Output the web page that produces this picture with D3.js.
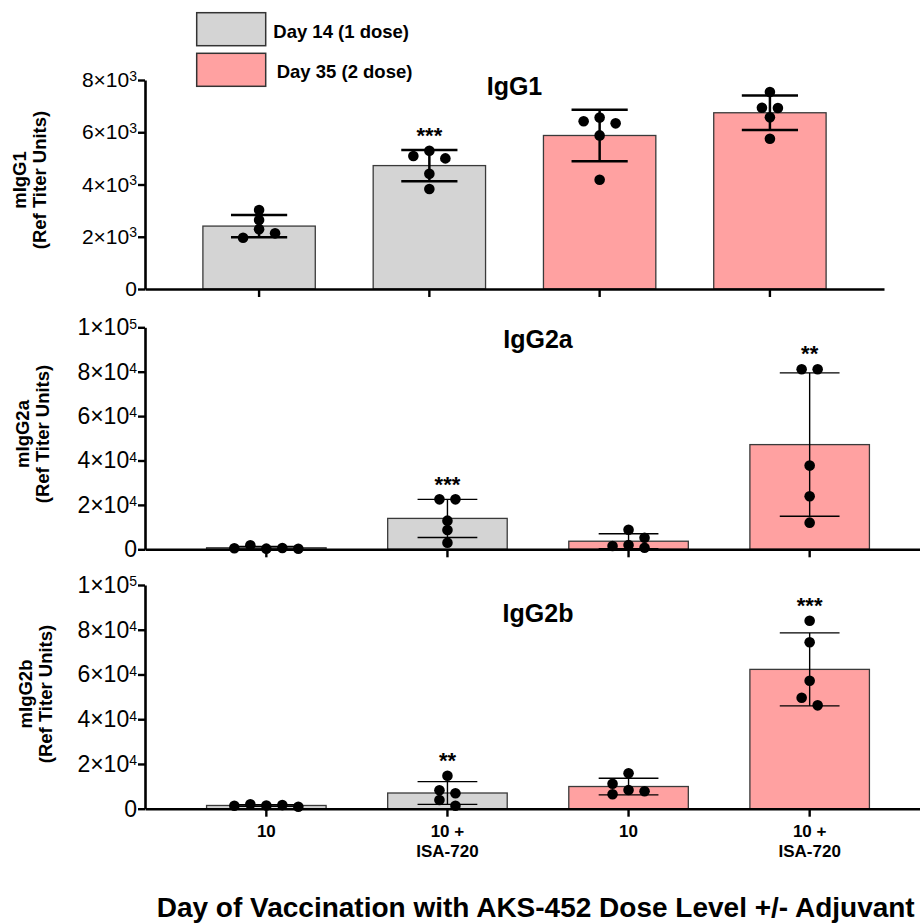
<!DOCTYPE html>
<html>
<head>
<meta charset="utf-8">
<script src="https://cdn.jsdelivr.net/npm/d3@7"></script>
<style>
body { margin: 0; background: #fff; }
text { font-family: "Liberation Sans", Arial, sans-serif; }
</style>
</head>
<body>
<svg id="chart" width="920" height="924"></svg>
<script>
// categories (two-line labels split on "|") and which group each bar belongs to
const categories = ["10", "10 +|ISA-720", "10", "10 +|ISA-720"]
const groups = ["Day 14 (1 dose)", "Day 14 (1 dose)", "Day 35 (2 dose)", "Day 35 (2 dose)"]
const legendLabels = ["Day 14 (1 dose)", "Day 35 (2 dose)"]

// individual animal titers
const igg1Points = [
    [3020, 2640, 2290, 2130, 1960],
    [5290, 5000, 5090, 4410, 3830],
    [6560, 6340, 6420, 5880, 4180],
    [7540, 6940, 6930, 6570, 5750]
]
const igg2aPoints = [
    [300, 600, 1800, 250, 500],
    [22500, 22500, 12900, 8700, 3000],
    [8830, 5230, 1940, 1490, 720],
    [81100, 81100, 37700, 23900, 12000]
]
const igg2bPoints = [
    [1400, 1600, 2000, 900, 1300],
    [14750, 8230, 6880, 3890, 1340],
    [15820, 8360, 7780, 11180, 6440],
    [84000, 74400, 57200, 49600, 46200]
]

const igg1Stars = ["", "***", "", ""]
const igg2aStars = ["", "***", "", "**"]
const igg2bStars = ["", "**", "", "***"]

const igg1Ticks = [0, 2000, 4000, 6000, 8000]
const igg2Ticks = [0, 20000, 40000, 60000, 80000, 100000]

const xTitle = "Day of Vaccination with AKS-452 Dose Level +/- Adjuvant"

const COLORS = { "Day 14 (1 dose)": "#d4d4d4", "Day 35 (2 dose)": "#ffa1a1" }

const panels = [
    { title: "IgG1", yLabel: "mIgG1", points: igg1Points, stars: igg1Stars, ticks: igg1Ticks,
      top: 80, bottom: 289, right: 884, titleY: 95, labelX: 26, labelY: 180, thick: true, tickFont: 21 },
    { title: "IgG2a", yLabel: "mIgG2a", points: igg2aPoints, stars: igg2aStars, ticks: igg2Ticks,
      top: 327.3, bottom: 549.3, right: 931, titleY: 348.3, labelX: 29, labelY: 434, thick: false, tickFont: 23 },
    { title: "IgG2b", yLabel: "mIgG2b", points: igg2bPoints, stars: igg2bStars, ticks: igg2Ticks,
      top: 585, bottom: 808.7, right: 931, titleY: 621.7, labelX: 32, labelY: 694, thick: false, tickFont: 23, labels: true }
]

const left = 145
const dotR = 5.3

let svg = d3.select("#chart")
svg.append("rect").attr("width", 920).attr("height", 924).attr("fill", "#fff")

// simple GraphPad-like scatter: stack in a column, spill sideways on overlap, centre each clump
const swarm = (vals, y, step, thr) => {
    const pts = vals.map(v => ({ v: v, py: y(v), col: 0 }))
    const order = [0, 1, -1, 2, -2, 3, -3]
    pts.forEach((p, i) => {
        for (const c of order) {
            const hit = pts.slice(0, i).some(q => q.col === c && Math.abs(q.py - p.py) < thr)
            if (!hit) { p.col = c; break }
        }
    })
    const comp = pts.map((d, i) => i)
    const find = i => comp[i] === i ? i : (comp[i] = find(comp[i]))
    pts.forEach((p, i) => pts.forEach((q, j) => {
        if (j > i && Math.abs(p.py - q.py) < thr) comp[find(j)] = find(i)
    }))
    const shift = {}
    pts.forEach((p, i) => {
        const k = find(i)
        const cols = pts.filter((q, j) => find(j) === k).map(q => q.col)
        shift[k] = (d3.min(cols) + d3.max(cols)) / 2
    })
    pts.forEach((p, i) => p.dx = (p.col - shift[find(i)]) * step)
    return pts
}

const fmtTick = (sel) => {
    sel.each(function (d) {
        let t = d3.select(this).text(null)
        if (d === 0) { t.text("0"); return }
        let e = Math.floor(Math.log10(d))
        let m = Math.round(d / Math.pow(10, e))
        t.append("tspan").text(m + "×10")
        t.append("tspan").attr("dy", -6.5).attr("font-size", 14).text(e)
    })
}

panels.forEach(p => {
    let x = d3.scaleBand()
        .domain(d3.range(categories.length))
        .range([left, p.right])
        .paddingInner(0.34)
        .paddingOuter(0.34)

    let y = d3.scaleLinear()
        .domain([0, d3.max(p.ticks)])
        .range([p.bottom, p.top])

    let g = svg.append("g")
    let lw = p.thick ? 2.5 : 1.4
    let bw = x.bandwidth()

    let stats = p.points.map(v => ({ mean: d3.mean(v), sd: d3.deviation(v) }))

    // bars
    g.selectAll(".bar")
        .data(stats)
        .enter()
        .append("rect")
        .attr("x", (d, i) => x(i))
        .attr("y", d => y(d.mean))
        .attr("width", bw)
        .attr("height", d => y(0) - y(d.mean))
        .attr("fill", (d, i) => COLORS[groups[i]])
        .attr("stroke", "#3a3a3a")
        .attr("stroke-width", 1.3)

    // SD error bars
    stats.forEach((d, i) => {
        let cx = x(i) + bw / 2
        let hi = y(d.mean + d.sd), lo = y(d.mean - d.sd)
        g.append("line").attr("x1", cx).attr("x2", cx).attr("y1", hi).attr("y2", lo)
            .attr("stroke", "#000").attr("stroke-width", lw)
        ;[hi, lo].forEach(yy => {
            g.append("line").attr("x1", cx - bw / 4).attr("x2", cx + bw / 4).attr("y1", yy).attr("y2", yy)
                .attr("stroke", "#000").attr("stroke-width", lw)
        })
    })

    // dots
    p.points.forEach((vals, i) => {
        let cx = x(i) + bw / 2
        let pts = swarm(vals, y, 16, 8.8)
        g.selectAll(".dot" + i)
            .data(pts)
            .enter()
            .append("circle")
            .attr("cx", d => cx + d.dx)
            .attr("cy", d => d.py)
            .attr("r", dotR)
            .attr("fill", "#000")

        if (p.stars[i]) {
            let topY = Math.min(y(stats[i].mean + stats[i].sd), d3.min(pts, d => d.py) - dotR)
            g.append("text")
                .attr("x", cx)
                .attr("y", topY - 15 + 12.5)
                .attr("text-anchor", "middle")
                .attr("font-size", 22)
                .attr("font-weight", "bold")
                .text(p.stars[i])
        }
    })

    // axes
    let xAxis = d3.axisBottom(x).tickSize(8).tickSizeOuter(0).tickFormat("")
    let xg = g.append("g").attr("transform", "translate(0," + y(0) + ")").call(xAxis)
    xg.select(".domain").attr("stroke-width", 2.6)
    xg.selectAll(".tick line").attr("stroke-width", 2.4)

    let yAxis = d3.axisLeft(y).tickValues(p.ticks).tickSize(7).tickSizeOuter(0).tickPadding(1)
    let yg = g.append("g").attr("transform", "translate(" + left + ",0)").call(yAxis)
    yg.attr("font-size", p.tickFont)
    yg.select(".domain").attr("stroke-width", 2.6)
    yg.selectAll(".tick line").attr("stroke-width", 2.4)
    yg.selectAll(".tick text")
        .attr("font-size", p.tickFont)
        .attr("font-family", "'Liberation Sans', Arial, sans-serif")
        .attr("fill", "#000")
        .call(fmtTick)

    // panel title
    g.append("text")
        .attr("x", (left + p.right) / 2)
        .attr("y", p.titleY)
        .attr("text-anchor", "middle")
        .attr("font-size", 25)
        .attr("font-weight", "bold")
        .text(p.title)

    // y label, two lines rotated
    let yl = g.append("g").attr("transform", "translate(0," + p.labelY + ") rotate(-90)")
    yl.append("text").attr("y", p.labelX).attr("text-anchor", "middle")
        .attr("font-size", 18.5).attr("font-weight", "bold").text(p.yLabel)
    yl.append("text").attr("y", p.labelX + 20).attr("text-anchor", "middle")
        .attr("font-size", 18.5).attr("font-weight", "bold").text("(Ref Titer Units)")

    if (p.labels) {
        categories.forEach((c, i) => {
            c.split("|").forEach((line, k) => {
                g.append("text")
                    .attr("x", x(i) + bw / 2)
                    .attr("y", y(0) + 28 + k * 20)
                    .attr("text-anchor", "middle")
                    .attr("font-size", 17)
                    .attr("font-weight", "bold")
                    .text(line)
            })
        })
    }
})

// legend
let legend = svg.append("g").attr("id", "legend")
legendLabels.forEach((l, i) => {
    legend.append("rect")
        .attr("x", 196.7)
        .attr("y", 12.7 + i * 40.6)
        .attr("width", 69)
        .attr("height", 33)
        .attr("fill", COLORS[l])
        .attr("stroke", "#333")
        .attr("stroke-width", 1.5)
    legend.append("text")
        .attr("x", 273.3 + i * 3.4)
        .attr("y", 38.3 + i * 39.4)
        .attr("font-size", 18.5)
        .attr("font-weight", "bold")
        .text(l)
})

// x title
svg.append("text")
    .attr("x", 156.7)
    .attr("y", 917)
    .attr("font-size", 28)
    .attr("font-weight", "bold")
    .text(xTitle)
</script>
</body>
</html>
